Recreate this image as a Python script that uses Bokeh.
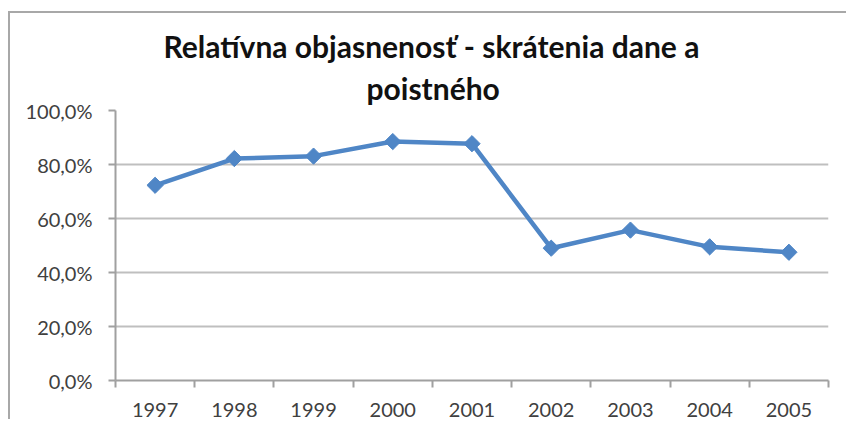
import math
from bokeh.plotting import figure
from bokeh.models import Range1d, FixedTicker, Title
from bokeh.embed import file_html
from bokeh.resources import INLINE

# Data
years = ["1997", "1998", "1999", "2000", "2001", "2002", "2003", "2004", "2005"]
values = [72.3, 82.2, 83.1, 88.5, 87.7, 49.0, 55.7, 49.5, 47.5]
y_ticks = [0, 20, 40, 60, 80, 100]
y_tick_labels = ["0,0%", "20,0%", "40,0%", "60,0%", "80,0%", "100,0%"]
title_lines = ["Relatívna objasnenosť - skrátenia dane a", "poistného"]

xs = list(range(len(years)))

p = figure(frame_width=713, frame_height=270,
           x_range=Range1d(-0.5, len(years) - 0.5), y_range=Range1d(0, 100),
           output_backend="svg", toolbar_location=None,
           min_border_left=105, min_border_right=18,
           min_border_top=97, min_border_bottom=30,
           styles={"border-left": "2px solid #a8a8a8",
                   "border-top": "2px solid #a8a8a8",
                   "margin-left": "8px", "margin-top": "11px"})
p.title = None
p.outline_line_color = None
p.background_fill_color = "white"
p.border_fill_color = "white"

p.line(xs, values, line_color="#4F86C6", line_width=4.5)
p.scatter(xs, values, marker="square", angle=math.pi / 4, size=11.5,
          fill_color="#4F86C6", line_color="#4F86C6")

# X axis
p.xaxis.ticker = FixedTicker(ticks=xs, minor_ticks=[i - 0.5 for i in range(len(years) + 1)])
p.xaxis.major_label_overrides = {i: y for i, y in enumerate(years)}
p.xaxis.major_tick_out = 0
p.xaxis.major_tick_in = 0
p.xaxis.minor_tick_out = 7
p.xaxis.minor_tick_in = 0
p.xaxis.minor_tick_line_color = "#a0a0a0"
p.xaxis.minor_tick_line_width = 2
p.xaxis.major_label_standoff = 15
p.xgrid.grid_line_color = None

# Y axis
p.yaxis.ticker = FixedTicker(ticks=y_ticks, minor_ticks=[])
p.yaxis.major_label_overrides = {t: l for t, l in zip(y_ticks, y_tick_labels)}
p.yaxis.major_tick_out = 7
p.yaxis.major_tick_in = 0
p.yaxis.major_tick_line_color = "#a0a0a0"
p.yaxis.major_tick_line_width = 2
p.yaxis.major_label_standoff = 16
p.ygrid.grid_line_color = "#bfbfbf"
p.ygrid.grid_line_width = 2

for ax in (p.xaxis, p.yaxis):
    ax.axis_line_color = "#a0a0a0"
    ax.axis_line_width = 2
    ax.major_label_text_font = "Lato"
    ax.major_label_text_font_size = "20px"
    ax.major_label_text_color = "#404040"

# Title (two lines, outermost added last)
for txt, so, off in zip(reversed(title_lines), [9, 0], [251, 48]):
    p.add_layout(Title(text=txt, align="left", offset=off, standoff=so,
                       text_font="Lato", text_font_style="bold",
                       text_font_size="30px", text_color="#111111"), "above")

open("out.html", "w").write(file_html(p, INLINE))
